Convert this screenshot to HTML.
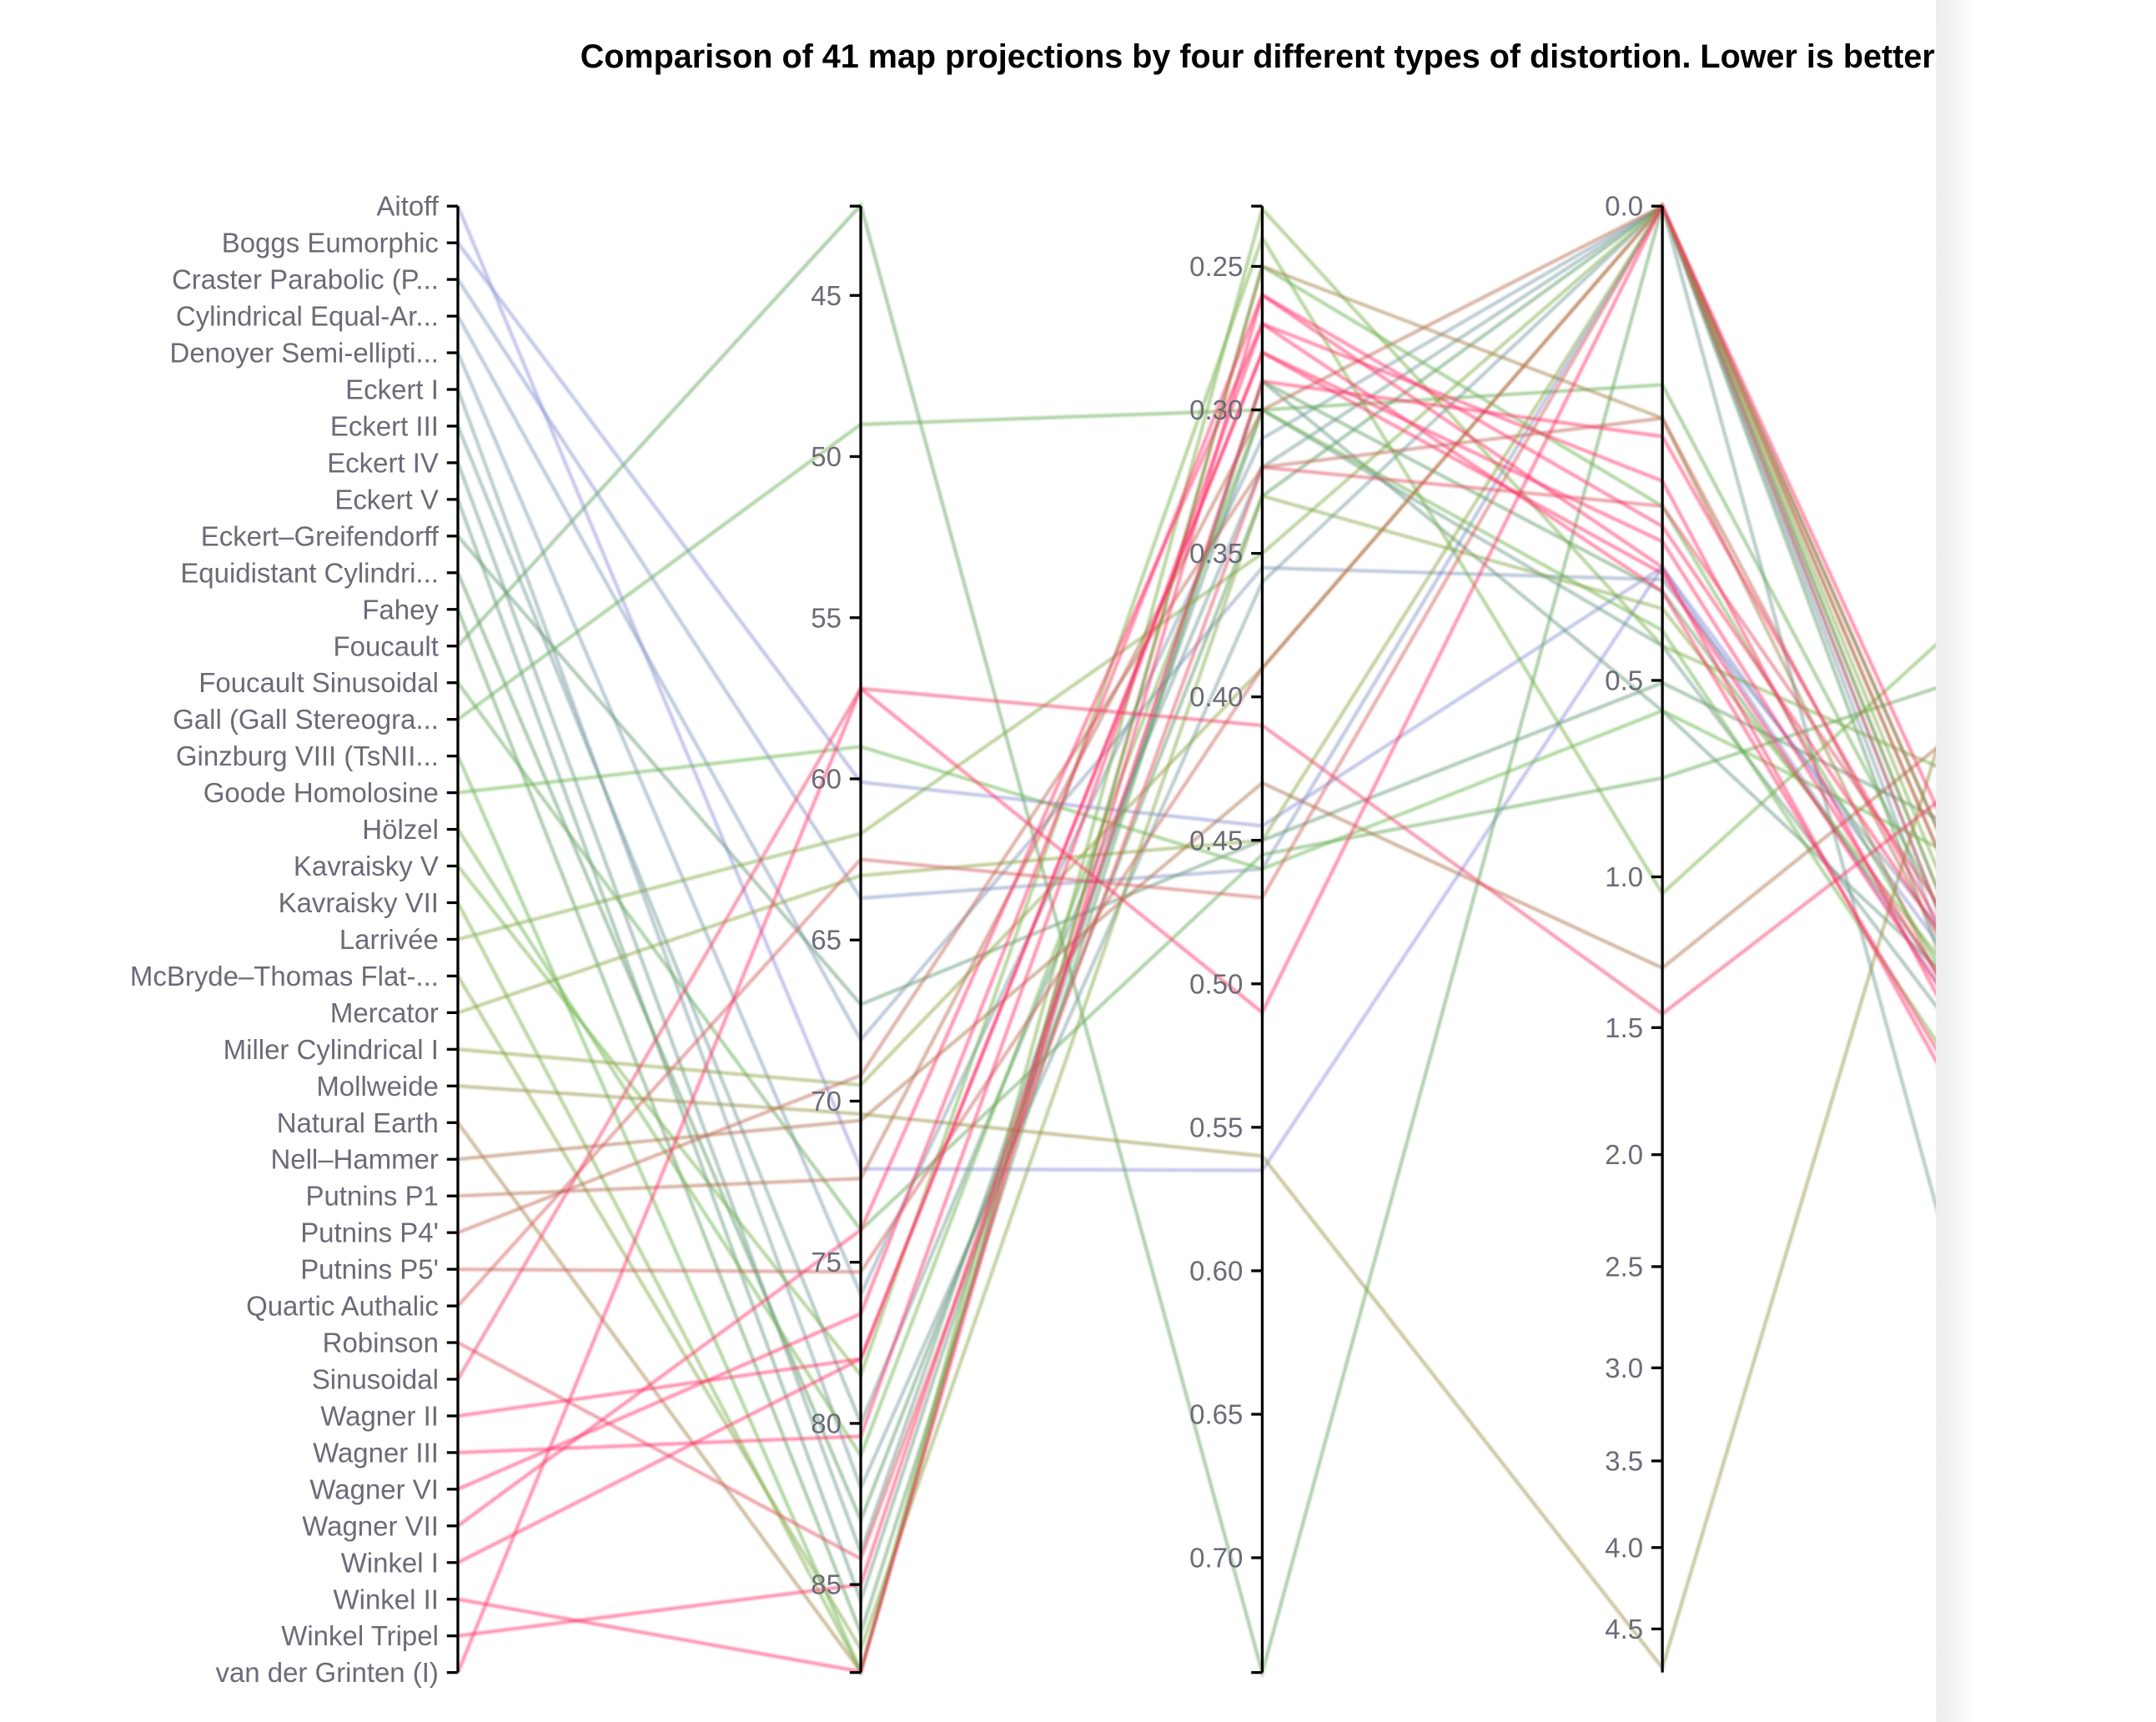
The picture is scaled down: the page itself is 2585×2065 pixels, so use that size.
<!DOCTYPE html>
<html><head><meta charset="utf-8"><title>Map projection distortion comparison</title>
<style>
html,body{margin:0;padding:0;background:#fff;overflow:hidden;}
svg{display:block;}
</style></head>
<body>
<svg id="chart" width="2585" height="2065" viewBox="0 0 1568 1253" preserveAspectRatio="none" xmlns="http://www.w3.org/2000/svg">
<defs>
<linearGradient id="shadowGrad" x1="0" x2="1" y1="0" y2="0">
<stop offset="0" stop-color="#ececec"/><stop offset="1" stop-color="#ffffff"/>
</linearGradient>
<clipPath id="cardClip"><rect x="0" y="0" width="1408" height="1253"/></clipPath>
<filter id="soft" x="-5%" y="-5%" width="110%" height="110%"><feGaussianBlur stdDeviation="0.7"/></filter>
</defs>
<rect x="0" y="0" width="1568" height="1253" fill="#ffffff"/>
<rect x="1408" y="0" width="30" height="1253" fill="url(#shadowGrad)"/>
<path d="M0 0 H1388 A20 20 0 0 1 1408 20 V1253 H0 Z" fill="#ffffff"/>
<g clip-path="url(#cardClip)">
<text x="422" y="49" font-family="Liberation Sans, sans-serif" font-weight="bold" font-size="24" fill="#000">Comparison of 41 map projections by four different types of distortion. Lower is better</text>
<g id="lines" filter="url(#soft)"></g>
<g id="axes"></g>
</g>
</svg>
<script>
// ---- data ----
const projections = ["Aitoff","Boggs Eumorphic","Craster Parabolic (P...","Cylindrical Equal-Ar...","Denoyer Semi-ellipti...","Eckert I","Eckert III","Eckert IV","Eckert V","Eckert–Greifendorff","Equidistant Cylindri...","Fahey","Foucault","Foucault Sinusoidal","Gall (Gall Stereogra...","Ginzburg VIII (TsNII...","Goode Homolosine","Hölzel","Kavraisky V","Kavraisky VII","Larrivée","McBryde–Thomas Flat-...","Mercator","Miller Cylindrical I","Mollweide","Natural Earth","Nell–Hammer","Putnins P1","Putnins P4'","Putnins P5'","Quartic Authalic","Robinson","Sinusoidal","Wagner II","Wagner III","Wagner VI","Wagner VII","Winkel I","Winkel II","Winkel Tripel","van der Grinten (I)"];
const distortionA = [72.1,60.1,63.7,68.1,76.0,82.0,80.0,84.0,85.5,67.0,83.0,86.5,42.2,74.0,49.0,87.7,59.0,81.0,78.5,87.7,61.7,87.0,63.0,69.5,70.4,87.7,70.6,72.4,69.2,75.3,62.5,84.2,57.2,78.0,80.4,76.6,74.0,78.0,87.7,85.0,57.2];
const distortionB = [0.565,0.445,0.46,0.355,0.31,0.36,0.32,0.30,0.29,0.45,0.33,0.29,0.74,0.455,0.30,0.25,0.46,0.30,0.24,0.23,0.35,0.33,0.45,0.39,0.56,0.25,0.43,0.30,0.32,0.39,0.47,0.32,0.41,0.28,0.27,0.26,0.27,0.28,0.26,0.29,0.51];
const distortionC = [0.29,0.29,0,0.31,0,0,0,0.43,0.566,0.505,0,0.33,0,0.727,0.071,0.2,0.566,0.40,1.05,0.43,0,0.36,0,0,4.75,0.10,1.29,0,0.10,0,0,0.2,1.45,0.25,0.168,0.228,0.33,0.30,0.29,0.118,0];
const distortionD = [0.62,0.66,0.70,0.60,0.72,0.68,1.0,0.66,0.60,0.46,0.74,0.64,0.62,0.30,0.64,0.66,0.48,0.70,0.22,0.42,0.66,0.62,0.68,0.64,0.08,0.70,0.30,0.62,0.66,0.70,0.64,0.60,0.34,0.66,0.70,0.62,0.72,0.66,0.74,0.64,0.60];
const ticksA = [45,50,55,60,65,70,75,80,85];
const ticksB = [0.25,0.30,0.35,0.40,0.45,0.50,0.55,0.60,0.65,0.70];
const ticksC = [0,0.5,1,1.5,2,2.5,3,3.5,4,4.5];

// ---- scales ----
const AX = [333,626,918,1209,1501];
const TOP = 150, BOT = 1217, H = BOT - TOP;
const y0 = i => TOP + i * H / (projections.length - 1);
const y1 = v => TOP + (v - 42.23) / (87.73 - 42.23) * H;
const y2 = v => TOP + (v - 0.229) / (0.740 - 0.229) * H;
const y3 = v => TOP + Math.sqrt(Math.max(0, v)) / Math.sqrt(4.78) * H;
const y4 = v => TOP + v * H;

const NS = "http://www.w3.org/2000/svg";
const linesG = document.getElementById('lines');
const axesG = document.getElementById('axes');

const stops = [[0,[140,140,220]],[4,[120,150,170]],[10,[90,150,100]],[16,[100,180,70]],[23,[140,160,60]],[26,[170,110,70]],[30,[210,90,90]],[33,[255,40,100]],[40,[255,40,100]]];
function colorAt(i){
  for(let k=0;k<stops.length-1;k++){
    const a=stops[k],b=stops[k+1];
    if(i>=a[0]&&i<=b[0]){const t=(i-a[0])/((b[0]-a[0])||1);
      const c=a[1].map((x,j)=>Math.round(x+(b[1][j]-x)*t));return `rgb(${c[0]},${c[1]},${c[2]})`;}
  }
  return 'rgb(255,40,100)';
}

projections.forEach((name,i)=>{
  const pts=[[AX[0],y0(i)],[AX[1],y1(distortionA[i])],[AX[2],y2(distortionB[i])],[AX[3],y3(distortionC[i])],[AX[4],y4(distortionD[i])]];
  const p=document.createElementNS(NS,'path');
  p.setAttribute('d','M'+pts.map(q=>q[0].toFixed(1)+' '+q[1].toFixed(1)).join(' L'));
  p.setAttribute('fill','none');
  p.setAttribute('stroke',colorAt(i));
  p.setAttribute('stroke-width','2.5');
  p.setAttribute('stroke-opacity','0.5');
  
  
  linesG.appendChild(p);
});

function axisLine(x){
  const l=document.createElementNS(NS,'line');
  l.setAttribute('x1',x);l.setAttribute('x2',x);l.setAttribute('y1',TOP);l.setAttribute('y2',BOT);
  l.setAttribute('stroke','#000');l.setAttribute('stroke-width','2');
  
  
  axesG.appendChild(l);
}
function tick(x,y,label){
  const t=document.createElementNS(NS,'line');
  t.setAttribute('x1',x-8);t.setAttribute('x2',x);t.setAttribute('y1',y);t.setAttribute('y2',y);
  t.setAttribute('stroke','#000');t.setAttribute('stroke-width','2');
  
  
  axesG.appendChild(t);
  const tx=document.createElementNS(NS,'text');
  tx.setAttribute('x',x-14);tx.setAttribute('y',y);tx.setAttribute('dy','0.35em');
  tx.setAttribute('text-anchor','end');
  tx.setAttribute('font-family','Liberation Sans, sans-serif');
  tx.setAttribute('font-size','20');
  tx.setAttribute('fill','#6b6b78');
  tx.textContent=label;
  
  
  axesG.appendChild(tx);
}
AX.forEach(axisLine);
projections.forEach((n,i)=>tick(AX[0],y0(i),n));
ticksA.forEach(v=>tick(AX[1],y1(v),String(v)));
ticksB.forEach(v=>tick(AX[2],y2(v),v.toFixed(2)));
ticksC.forEach(v=>tick(AX[3],y3(v),v.toFixed(1)));
[TOP,BOT].forEach(y=>{[1,2].forEach(k=>{
  const t=document.createElementNS(NS,'line');
  t.setAttribute('x1',AX[k]-8);t.setAttribute('x2',AX[k]);t.setAttribute('y1',y);t.setAttribute('y2',y);
  t.setAttribute('stroke','#000');t.setAttribute('stroke-width','2');
  
  
  axesG.appendChild(t);});});
</script>
</body></html>
